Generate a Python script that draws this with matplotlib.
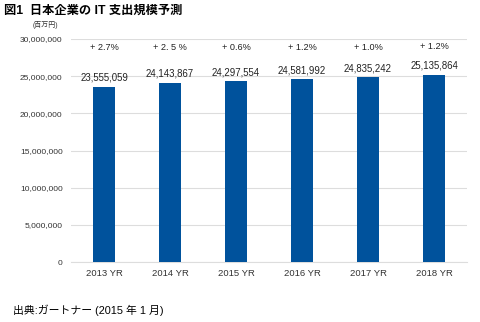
import matplotlib.pyplot as plt
from matplotlib.ticker import FuncFormatter

plt.rcParams['font.family'] = ['Liberation Sans', 'Noto Sans CJK JP', 'DejaVu Sans']

# data (unit: million yen)
years = ['2013 YR', '2014 YR', '2015 YR', '2016 YR', '2017 YR', '2018 YR']
spending = [23555059, 24143867, 24297554, 24581992, 24835242, 25135864]
growth = ['+ 2.7%', '+ 2. 5 %', '+ 0.6%', '+ 1.2%', '+ 1.0%', '+ 1.2%']
pct_y = [28.8e6, 28.8e6, 28.8e6, 28.8e6, 28.9e6, 29.0e6]

fig = plt.figure(figsize=(4.8, 3.22), dpi=100)
ax = fig.add_axes([0.148, 0.186, 0.825, 0.693])

x = range(len(years))
ax.bar(x, spending, width=0.34, color='#00529c', zorder=3)

for i, v in enumerate(spending):
    ax.annotate(f'{v:,}', (i, v), xytext=(0, 3), textcoords='offset points',
                ha='center', va='bottom', fontsize=6.9, color='#222222')
    ax.text(i, pct_y[i], growth[i], ha='center', va='center', fontsize=6.6, color='#222222')

ax.set_ylim(0, 30e6)
ax.set_xlim(-0.5, len(years) - 0.5)
ax.set_yticks(range(0, 30000001, 5000000))
ax.yaxis.set_major_formatter(FuncFormatter(lambda v, p: f'{int(v):,}'))
ax.set_xticks(list(x))
ax.set_xticklabels(years)
ax.tick_params(axis='both', length=0, colors='#333333')
ax.tick_params(axis='y', pad=6, labelsize=6.0)
ax.tick_params(axis='x', pad=5, labelsize=6.8)
ax.grid(axis='y', color='#dddddd', linewidth=0.8, zorder=0)
for s in ['top', 'right', 'left']:
    ax.spines[s].set_visible(False)
ax.spines['bottom'].set_color('#dddddd')
ax.spines['bottom'].set_linewidth(0.8)

fig.text(0.008, 0.968, '図1  日本企業の IT 支出規模予測', fontsize=8.8, fontweight='bold',
         va='center', ha='left')
fig.text(0.067, 0.922, '(百万円)', fontsize=5, va='center', ha='left', color='#333333')
fig.text(0.027, 0.037, '出典:ガートナー (2015 年 1 月)', fontsize=7.8, va='center', ha='left')

fig.savefig('out.png', dpi=100)
